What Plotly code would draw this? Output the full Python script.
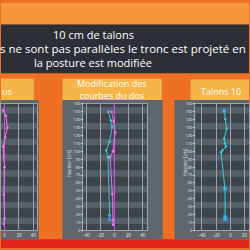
import plotly.graph_objects as go

W = H = 250

# ---- data ----
y_ticks = list(range(0, 161, 10))
x_ticks = [-40, -20, 0, 20, 40]

left_pink_x = [-2, 2, 4, 1, -2, 0, -1, 0, -1]
left_pink_y = [152, 145, 130, 118, 106, 80, 45, 15, 8]

mid_pink_x = [-4, -1, 1, -2, -6, -3, -2, -2]
mid_pink_y = [150, 138, 124, 100, 93, 46, 13, 7]
mid_cyan_x = [-8.5, -5, -3, -7, -11.5, -9, -7, -6.5]
mid_cyan_y = [150, 139, 131, 112, 101, 93, 19, 13]

right_cyan_x = [-8.5, -7, -5, -8.5, -7.5, -6, -11, -13, -7.4, -7, -7]
right_cyan_y = [151, 141, 129, 116, 110, 106, 101, 99, 53, 17, 14]

ref_x = [0, 0]
ref_y = [0, 160]

title_lines = ["10 cm de talons",
               "s ne sont pas parallèles le tronc est projeté en",
               "la posture est modifiée"]
headers = ["us", "Modification des<br>courbes du dos", "Talons 10"]
y_title = "Hauteur [cm]"

PINK = "#e044e6"
PINK2 = "#f07cf2"
CYAN = "#34d2d6"
BLUE = "#3a9cf4"

fig = go.Figure()

def px(v):
    return v / W

def py(v):
    return 1 - v / H

shapes = []
def rect(x0, y0, x1, y1, color):
    shapes.append(dict(type="rect", xref="paper", yref="paper",
                       x0=px(x0), x1=px(x1), y0=py(y1), y1=py(y0),
                       fillcolor=color, line=dict(width=0), layer="below"))

# background
rect(0, 0, 250, 22, "#f3973a")
rect(0, 22, 250, 72, "#2c2f37")
rect(0, 72, 250, 241, "#ee7024")
rect(0, 241, 250, 250, "#e2251c")
# headers
rect(0, 77, 33, 99, "#f5b548")
rect(62, 77, 162, 99, "#f5b548")
rect(191, 78, 250, 99, "#f5b548")
# panels
rect(0, 99, 38, 241, "#5f666d")
rect(62, 99, 163, 241, "#5f666d")
rect(175, 99, 250, 241, "#5f666d")

plots = [
    ("", (0, 36), (-4.8, 44.5), False),
    ("2", (83, 147), (-43.8, 45.7), True),
    ("3", (196, 250), (-49, 26.5), True),
]
yd = [py(232), py(103)]
for suf, (a, b), rng, showy in plots:
    xa = "xaxis" + suf
    ya = "yaxis" + suf
    fig.update_layout({
        xa: dict(domain=[px(a), px(b)], range=list(rng), tickvals=x_ticks,
                 tickfont=dict(size=4.5, color="#e6e6e6", family="Open Sans"),
                 showgrid=True, gridcolor="#9aa1a9", gridwidth=0.6,
                 zeroline=False, showline=True, linecolor="#9aa1a9", linewidth=0.6,
                 mirror=True, anchor="y" + suf, ticks="", fixedrange=True),
        ya: dict(domain=yd, range=[0, 160], tickvals=y_ticks,
                 showticklabels=showy, ticks="outside" if showy else "",
                 ticklen=1.5, tickcolor="#cfcfcf",
                 tickfont=dict(size=4, color="#e6e6e6", family="Open Sans"),
                 showgrid=False, zeroline=False, showline=True,
                 linecolor="#9aa1a9", linewidth=0.6, mirror=True,
                 anchor="x" + suf, fixedrange=True),
    })
    shapes.append(dict(type="rect", xref="x" + suf + " domain", yref="y" + suf,
                       x0=0, x1=1, y0=0, y1=160, fillcolor="#566068",
                       line=dict(width=0), layer="below"))
    for k in range(0, 9):
        shapes.append(dict(type="rect", xref="x" + suf + " domain", yref="y" + suf,
                           x0=0, x1=1, y0=max(0, 20 * k - 4), y1=min(160, 20 * k + 8),
                           fillcolor="#3d444c", line=dict(width=0), layer="below"))

def line(x, y, color, suf, width=1.0, marker=True, msize=2.5):
    fig.add_trace(go.Scatter(
        x=x, y=y, xaxis="x" + suf, yaxis="y" + suf,
        mode="lines+markers" if marker else "lines",
        line=dict(color=color, width=width),
        marker=dict(size=msize, color=color),
        showlegend=False, hoverinfo="skip"))

# left
line(ref_x, ref_y, PINK, "", width=1.1, marker=False)
line(left_pink_x, left_pink_y, PINK2, "", width=1.0)
# middle
line(ref_x, ref_y, PINK, "2", width=1.1, marker=False)
line(mid_pink_x, mid_pink_y, PINK2, "2", width=0.9)
line(mid_cyan_x, mid_cyan_y, CYAN, "2", width=0.9)
line(mid_cyan_x[-2:], mid_cyan_y[-2:], BLUE, "2", width=0.9, msize=3)
# right
line(right_cyan_x, right_cyan_y, CYAN, "3", width=1.0)
fig.add_trace(go.Scatter(
    x=[right_cyan_x[0], right_cyan_x[-3], right_cyan_x[-2], right_cyan_x[-1]],
    y=[right_cyan_y[0], right_cyan_y[-3], right_cyan_y[-2], right_cyan_y[-1]],
    xaxis="x3", yaxis="y3", mode="markers",
    marker=dict(size=4, color="rgba(0,0,0,0)", line=dict(color=BLUE, width=0.9)),
    showlegend=False, hoverinfo="skip"))

ann = []
def text(t, x, y, size, anchor="center", color="white", angle=0, family="Open Sans"):
    ann.append(dict(text=t, xref="paper", yref="paper", x=px(x), y=py(y),
                    xanchor=anchor, yanchor="middle", showarrow=False,
                    textangle=angle, borderpad=0,
                    font=dict(size=size, color=color, family=family)))

text(title_lines[0], 93, 32, 11)
text(title_lines[1], 248, 46.5, 11.5, anchor="right")
text(title_lines[2], 93, 61, 11)
text(headers[0], 0, 90, 9, anchor="left")
ann.append(dict(text=headers[1], xref="paper", yref="paper", x=px(112), y=py(88),
                xanchor="center", yanchor="middle", showarrow=False,
                font=dict(size=9, color="white", family="Open Sans")))
text(headers[2], 201, 90, 9, anchor="left")
text(y_title, 68, 163, 4.5, angle=-90, color="#e6e6e6")
text(y_title, 185, 163, 4.5, angle=-90, color="#e6e6e6")

fig.update_layout(width=W, height=H, margin=dict(l=0, r=0, t=0, b=0),
                  paper_bgcolor="#ee7024", plot_bgcolor="rgba(0,0,0,0)",
                  shapes=shapes, annotations=ann)

fig.write_html("out.html")
